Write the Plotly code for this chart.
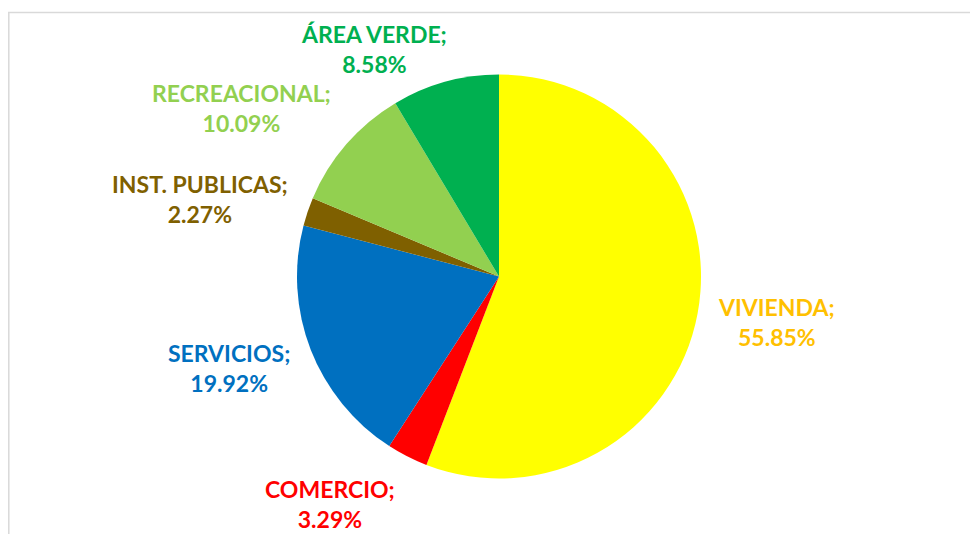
import plotly.graph_objects as go

categories = ["VIVIENDA", "COMERCIO", "SERVICIOS", "INST. PUBLICAS", "RECREACIONAL", "ÁREA VERDE"]
values = [55.85, 3.29, 19.92, 2.27, 10.09, 8.58]

slice_colors = ["#FFFF00", "#FF0000", "#0070C0", "#7F6000", "#92D050", "#00B050"]
label_colors = ["#FFC000", "#FF0000", "#0070C0", "#7F6000", "#92D050", "#00B050"]
# label centre positions in page pixels (x, y of first line) — layout only
label_pos = [(776, 306), (330, 488), (229, 352), (200, 183), (241, 92), (374, 33)]

OFF = 8  # browser default body margin
W, H = 978 - OFF, 534 - OFF
cx, cy, r = 499 - OFF, 276.5 - OFF, 202

fig = go.Figure(go.Pie(
    labels=categories,
    values=values,
    marker=dict(colors=slice_colors, line=dict(width=0)),
    sort=False,
    direction="clockwise",
    rotation=0,
    textinfo="none",
    hoverinfo="label+percent",
    domain=dict(x=[(cx - r) / W, (cx + r) / W], y=[(H - cy - r) / H, (H - cy + r) / H]),
    showlegend=False,
))

annotations = []
total = sum(values)
for cat, v, col, (px, py) in zip(categories, values, label_colors, label_pos):
    annotations.append(dict(
        x=(px - OFF) / W, y=1 - (py - OFF + 16) / H, xref="paper", yref="paper",
        xanchor="center", yanchor="middle", showarrow=False,
        text=f"{cat};<br>{v / total * 100:.2f}%",
        font=dict(family="Lato", size=23, color=col, weight="bold"),
        align="center",
    ))

shapes = [
    dict(type="line", xref="paper", yref="paper", x0=0, x1=1, y0=1 - 4.5 / H, y1=1 - 4.5 / H,
         line=dict(color="#D9D9D9", width=1.5)),
    dict(type="line", xref="paper", yref="paper", x0=0.8 / W, x1=0.8 / W, y0=1 - 4 / H, y1=0,
         line=dict(color="#D9D9D9", width=1.5)),
]

fig.update_layout(
    width=W, height=H,
    margin=dict(l=0, r=0, t=0, b=0),
    paper_bgcolor="white", plot_bgcolor="white",
    annotations=annotations,
    shapes=shapes,
)

fig.write_html("out.html")
